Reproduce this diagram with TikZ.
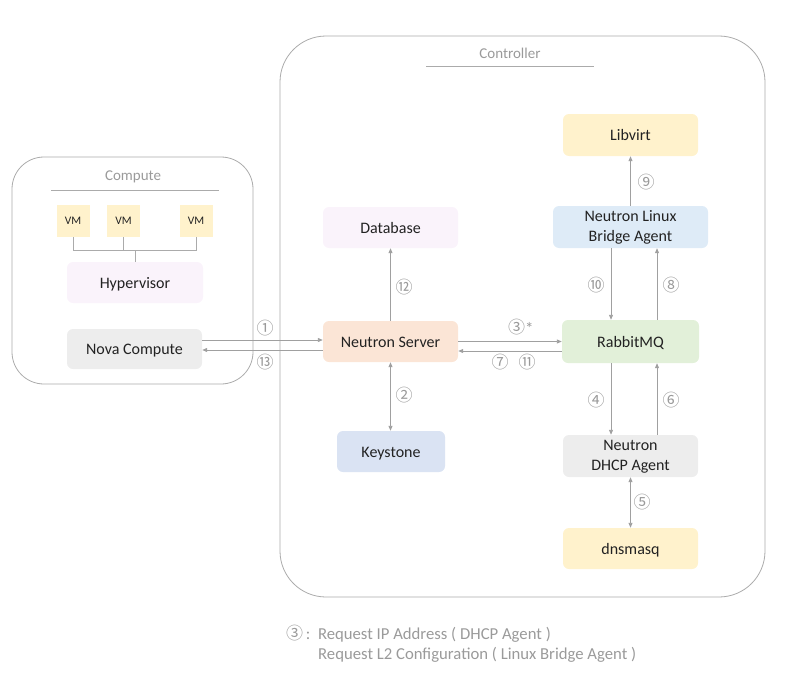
\documentclass[tikz,border=0pt]{standalone}
\usepackage{fontspec}
\setmainfont{Carlito}
\newfontfamily\symfont{Noto Sans CJK SC}
\usetikzlibrary{arrows.meta}
\definecolor{cyel}{HTML}{FFF2CC}
\definecolor{cpur}{HTML}{FAF3FB}
\definecolor{cpea}{HTML}{FBE5D6}
\definecolor{cgrn}{HTML}{E2F0D9}
\definecolor{cblu}{HTML}{DEEBF7}
\definecolor{ckey}{HTML}{DAE3F3}
\definecolor{cgry}{HTML}{EDEDED}
\definecolor{cline}{HTML}{ABABAB}
\definecolor{carr}{HTML}{A0A0A0}
\definecolor{clab}{HTML}{9A9A9A}
\definecolor{ctxt}{HTML}{222222}
\newcommand{\twolines}[2]{\raisebox{-3pt}{\begin{tabular}{@{}c@{}}#1\\#2\end{tabular}}}
\tikzset{
  basebox/.style={rounded corners=6pt, inner sep=0pt, align=center, text=ctxt,
    font=\fontsize{16}{20}\selectfont},
  compbox/.style={basebox, text height=15pt, text depth=3.5pt},
  twobox/.style={basebox},
  vmbox/.style={fill=cyel, inner sep=0pt, minimum width=33pt, minimum height=32pt,
    text=ctxt, font=\fontsize{11.5}{12}\selectfont},
  container/.style={draw=cline, line width=0.8pt},
  title/.style={text=clab, font=\fontsize{15}{16}\selectfont},
  num/.style={text=clab, font=\symfont\fontsize{17}{18}\selectfont, inner sep=0pt},
  arr/.style={draw=carr, line width=0.9pt, -{Triangle[length=5pt,width=4pt]}},
  darr/.style={draw=carr, line width=0.9pt, {Triangle[length=5pt,width=4pt]}-{Triangle[length=5pt,width=4pt]}},
  plain/.style={draw=carr, line width=0.9pt},
  note/.style={text=clab, font=\fontsize{16.7}{18}\selectfont, anchor=west, inner sep=0pt}
}
\begin{document}
\begin{tikzpicture}[x=1pt,y=-1pt]
\useasboundingbox (0,0) rectangle (800,685);
% containers
\draw[container, rounded corners=32pt] (12,157) rectangle (253,384);
\draw[container, rounded corners=46pt] (280,36) rectangle (765,597);
\node[title] (tcomp) at (133,177) {Compute};
\draw[plain, draw=cline] (51,190) -- (219,190);
\node[title] (tctrl) at (510,53.5) {Controller};
\draw[plain, draw=cline] (426,66) -- (594,66);
% compute nodes
\node[vmbox] (vm1) at (73,221) {VM};
\node[vmbox] (vm2) at (123.5,221) {VM};
\node[vmbox] (vm3) at (196,221) {VM};
\node[compbox, fill=cpur, minimum width=136pt, minimum height=41pt] (hyp) at (135,282.5) {Hypervisor};
\node[compbox, fill=cgry, minimum width=135pt, minimum height=40pt] (nova) at (134.5,349) {Nova Compute};
\coordinate (vmbus) at (135,250);
\draw[plain, draw=cline] (vm1.south) |- (vmbus);
\draw[plain, draw=cline] (vm3.south) |- (vmbus);
\draw[plain, draw=cline] (vm2.south) -- (vm2.south |- vmbus);
\draw[plain, draw=cline] (vmbus) -- (hyp.north);
% controller nodes
\node[compbox, fill=cyel, minimum width=135pt, minimum height=42pt] (lib) at (630.5,135) {Libvirt};
\node[twobox, fill=cblu, minimum width=155pt, minimum height=42pt] (lba) at (630.5,227) {\twolines{Neutron Linux}{Bridge Agent}};
\node[compbox, fill=cpur, minimum width=135pt, minimum height=41pt] (db) at (390.5,227.5) {Database};
\node[compbox, fill=cpea, minimum width=135pt, minimum height=41pt] (ns) at (390.5,341.5) {Neutron Server};
\node[compbox, fill=cgrn, minimum width=137pt, minimum height=43pt] (rmq) at (630.5,341.5) {RabbitMQ};
\node[compbox, fill=ckey, minimum width=108pt, minimum height=41pt] (key) at (391,451.5) {Keystone};
\node[twobox, fill=cgry, minimum width=135pt, minimum height=42pt] (dhcp) at (630.5,456) {\twolines{Neutron}{DHCP Agent}};
\node[compbox, fill=cyel, minimum width=135pt, minimum height=41pt] (dns) at (630.5,548.5) {dnsmasq};
% connectors
\draw[arr] ([yshift=9pt]nova.east) -- ([yshift=9pt]nova.east -| ns.west);
\draw[arr] ([yshift=-8.5pt]ns.west) -- ([yshift=-8.5pt]ns.west -| nova.east);
\draw[arr] (ns.north) -- (db.south);
\draw[darr] (ns.south) -- (ns.south |- key.north);
\draw[arr] ([yshift=0pt]ns.east) -- ([yshift=0pt]ns.east -| rmq.west);
\draw[arr] ([yshift=-9.5pt]rmq.west) -- ([yshift=-9.5pt]rmq.west -| ns.east);
\draw[arr] ([xshift=-19.5pt]lba.south) -- ([xshift=-19.5pt]lba.south |- rmq.north);
\draw[arr] ([xshift=26.5pt]rmq.north) -- ([xshift=26.5pt]rmq.north |- lba.south);
\draw[arr] (lba.north) -- (lib.south);
\draw[arr] ([xshift=-19.5pt]rmq.south) -- ([xshift=-19.5pt]rmq.south |- dhcp.north);
\draw[arr] ([xshift=26.5pt]dhcp.north) -- ([xshift=26.5pt]dhcp.north |- rmq.south);
\draw[darr] (dhcp.south) -- (dns.north);
% labels
\node[num] (n1) at (265,328) {①};
\node[num] (n13) at (265,362) {⑬};
\node[num] (n12) at (404,287) {⑫};
\node[num] (n2) at (404,395) {②};
\node[num, anchor=west] (n3) at (508,327) {③{\rmfamily\fontsize{17}{18}\selectfont\raisebox{-1pt}{*}}};
\node[num] (n7) at (500,362) {⑦};
\node[num] (n11) at (527,362) {⑪};
\node[num] (n10) at (596,285) {⑩};
\node[num] (n8) at (671,285) {⑧};
\node[num] (n9) at (646,182) {⑨};
\node[num] (n4) at (596,400) {④};
\node[num] (n6) at (671,400) {⑥};
\node[num] (n5) at (642,502) {⑤};
% footnote
\node[note] (f1) at (286,634) {{\symfont\fontsize{17}{18}\selectfont ③}\,:\ \ Request IP Address ( DHCP Agent )};
\node[note] (f2) at (318,655) {Request L2 Configuration ( Linux Bridge Agent )};
\end{tikzpicture}
\end{document}
